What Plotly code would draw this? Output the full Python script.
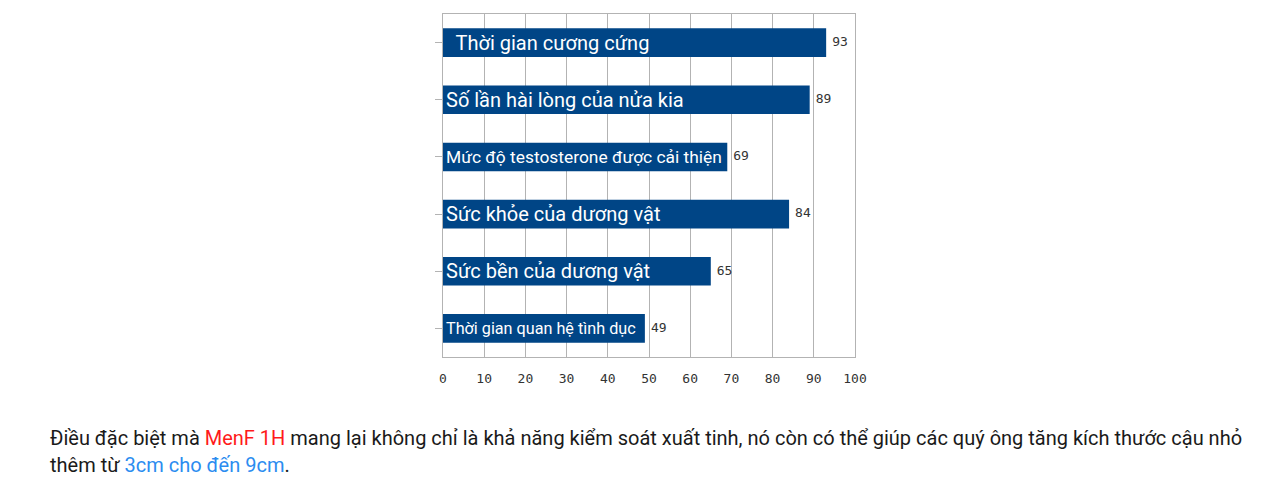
import plotly.graph_objects as go

categories = [
    "  Thời gian cương cứng",
    "Số lần hài lòng của nửa kia",
    "Mức độ testosterone được cải thiện",
    "Sức khỏe của dương vật",
    "Sức bền của dương vật",
    "Thời gian quan hệ tình dục",
]
values = [93, 89, 69, 84, 65, 49]
label_sizes = [20, 20, 17.4, 20, 20, 16.2]
x_ticks = [0, 10, 20, 30, 40, 50, 60, 70, 80, 90, 100]

W, H = 1274, 481
L, R, T, B = 443, 1274 - 855, 14, 481 - 357
pw = W - L - R
ph = H - T - B

ids = list(range(len(categories)))

fig = go.Figure()
fig.add_trace(go.Bar(
    y=ids, x=values, orientation="h",
    marker=dict(color="#004586", line=dict(width=0)),
    width=0.5,
    text=categories,
    textposition="inside",
    insidetextanchor="start",
    constraintext="none",
    textfont=dict(family="Roboto", size=label_sizes, color="white"),
    hoverinfo="skip",
))
fig.add_trace(go.Scatter(
    y=ids, x=values, mode="markers+text",
    marker=dict(size=8, opacity=0),
    text=[str(v) for v in values],
    textposition="middle right",
    textfont=dict(family="DejaVu Sans Mono", size=13, color="#333333"),
    hoverinfo="skip",
))

def px_to_paper_x(px):
    return (px - L) / pw

def px_to_paper_y(py):
    return (H - B - py) / ph

fig.update_layout(
    width=W, height=H,
    margin=dict(l=L, r=R, t=T, b=B),
    paper_bgcolor="white", plot_bgcolor="white",
    showlegend=False,
    xaxis=dict(
        range=[0, 100], tickvals=x_ticks, ticktext=[str(t) for t in x_ticks],
        showgrid=True, gridcolor="#b3b3b3", gridwidth=1,
        showline=True, linecolor="#b3b3b3", mirror=True,
        zeroline=False, ticks="", ticklabelstandoff=9,
        tickfont=dict(family="DejaVu Sans Mono", size=13, color="#333333"),
        fixedrange=True,
    ),
    yaxis=dict(
        range=[len(categories) - 0.5, -0.5],
        tickvals=ids, showticklabels=False,
        tickson="boundaries", ticks="outside", ticklen=7, tickcolor="#b3b3b3",
        showgrid=False, showline=True, linecolor="#b3b3b3", mirror=True,
        zeroline=False, fixedrange=True,
    ),
    annotations=[
        dict(
            xref="paper", yref="paper", x=px_to_paper_x(48), y=px_to_paper_y(438),
            xanchor="left", yanchor="middle", showarrow=False, align="left",
            text=("Điều đặc biệt mà <span style='color:#ff1a1a'>MenF 1H</span> mang lại không chỉ là khả năng "
                  "kiểm soát xuất tinh, nó còn có thể giúp các quý ông tăng kích thước cậu nhỏ"),
            font=dict(family="Roboto", size=20, color="#1a1a1a"),
        ),
        dict(
            xref="paper", yref="paper", x=px_to_paper_x(48), y=px_to_paper_y(465),
            xanchor="left", yanchor="middle", showarrow=False, align="left",
            text="thêm từ <span style='color:#2b8cf0'>3cm cho đến 9cm</span>.",
            font=dict(family="Roboto", size=20, color="#1a1a1a"),
        ),
    ],
)

fig.write_html("out.html")
